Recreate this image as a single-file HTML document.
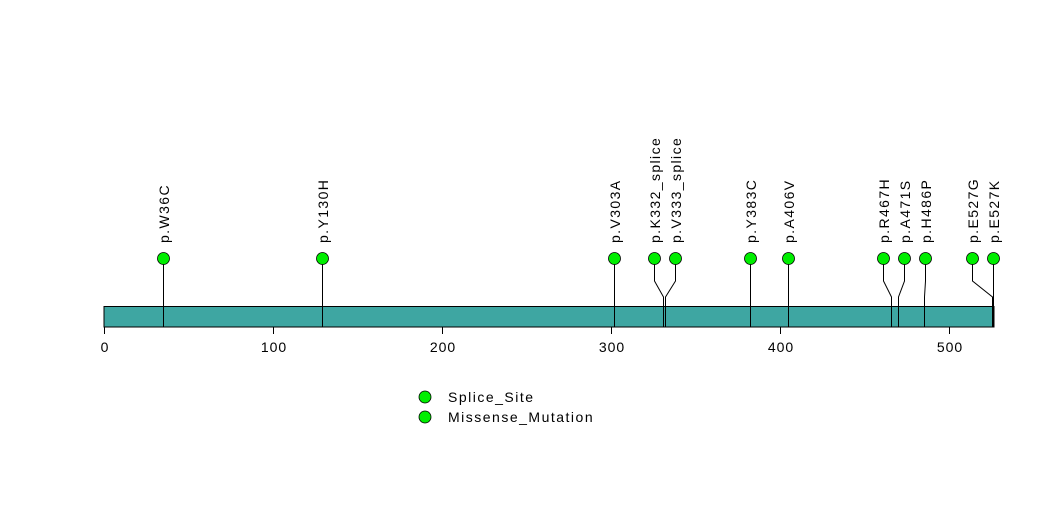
<!DOCTYPE html>
<html><head><meta charset="utf-8"><style>
body{margin:0;background:#fff;}
svg{display:block;font-family:"Liberation Sans",sans-serif;}
</style></head><body>
<svg width="1047" height="524" viewBox="0 0 1047 524">
<rect x="104" y="306.5" width="890" height="20.5" fill="#3ea6a2" stroke="#000" stroke-width="1"/>
<g stroke="#000" stroke-width="1" fill="none">
<line x1="104.5" y1="327" x2="104.5" y2="334"/>
<line x1="273.5" y1="327" x2="273.5" y2="334"/>
<line x1="442.5" y1="327" x2="442.5" y2="334"/>
<line x1="611.5" y1="327" x2="611.5" y2="334"/>
<line x1="780.5" y1="327" x2="780.5" y2="334"/>
<line x1="949.5" y1="327" x2="949.5" y2="334"/>
<polyline points="163.5,258 163.5,327"/>
<polyline points="322.5,258 322.5,327"/>
<polyline points="614.5,258 614.5,327"/>
<polyline points="654.5,258 654.5,281 663.5,297 663.5,327"/>
<polyline points="675.5,258 675.5,281 665.5,297 665.5,327"/>
<polyline points="750.5,258 750.5,327"/>
<polyline points="788.5,258 788.5,327"/>
<polyline points="883.5,258 883.5,281 891.5,297 891.5,327"/>
<polyline points="904.5,258 904.5,281 898.5,297 898.5,327"/>
<polyline points="925.5,258 925.5,281 924.5,297 924.5,327"/>
<polyline points="972.5,258 972.5,281 992.5,297 992.5,327"/>
<polyline points="993.5,258 993.5,327"/>
</g>
<g fill="#00ee00" stroke="#000" stroke-width="0.8">
<circle cx="163.5" cy="258.5" r="6"/><circle cx="322.5" cy="258.5" r="6"/>
<circle cx="614.5" cy="258.5" r="6"/><circle cx="654.5" cy="258.5" r="6"/>
<circle cx="675.5" cy="258.5" r="6"/><circle cx="750.5" cy="258.5" r="6"/>
<circle cx="788.5" cy="258.5" r="6"/><circle cx="883.5" cy="258.5" r="6"/>
<circle cx="904.5" cy="258.5" r="6"/><circle cx="925.5" cy="258.5" r="6"/>
<circle cx="972.5" cy="258.5" r="6"/><circle cx="993.5" cy="258.5" r="6"/>
<circle cx="425" cy="397" r="6"/><circle cx="425" cy="417" r="6"/>
</g>
<g font-size="14" fill="#000" letter-spacing="1.4">
<text transform="translate(169,243) rotate(-90)">p.W36C</text>
<text transform="translate(328,243) rotate(-90)">p.Y130H</text>
<text transform="translate(620,243) rotate(-90)">p.V303A</text>
<text transform="translate(660,243) rotate(-90)">p.K332_splice</text>
<text transform="translate(681,243) rotate(-90)">p.V333_splice</text>
<text transform="translate(756,243) rotate(-90)">p.Y383C</text>
<text transform="translate(794,243) rotate(-90)">p.A406V</text>
<text transform="translate(889,243) rotate(-90)">p.R467H</text>
<text transform="translate(910,243) rotate(-90)">p.A471S</text>
<text transform="translate(931,243) rotate(-90)">p.H486P</text>
<text transform="translate(978,243) rotate(-90)">p.E527G</text>
<text transform="translate(999,243) rotate(-90)">p.E527K</text>
</g>
<g font-size="14" fill="#000" text-anchor="middle" letter-spacing="1">
<text x="105" y="352">0</text><text x="274" y="352">100</text>
<text x="443" y="352">200</text><text x="612" y="352">300</text>
<text x="781" y="352">400</text><text x="950" y="352">500</text>
</g>
<g font-size="14" fill="#000" letter-spacing="1.5">
<text x="448" y="402">Splice_Site</text>
<text x="448" y="422">Missense_Mutation</text>
</g>
</svg>
</body></html>
